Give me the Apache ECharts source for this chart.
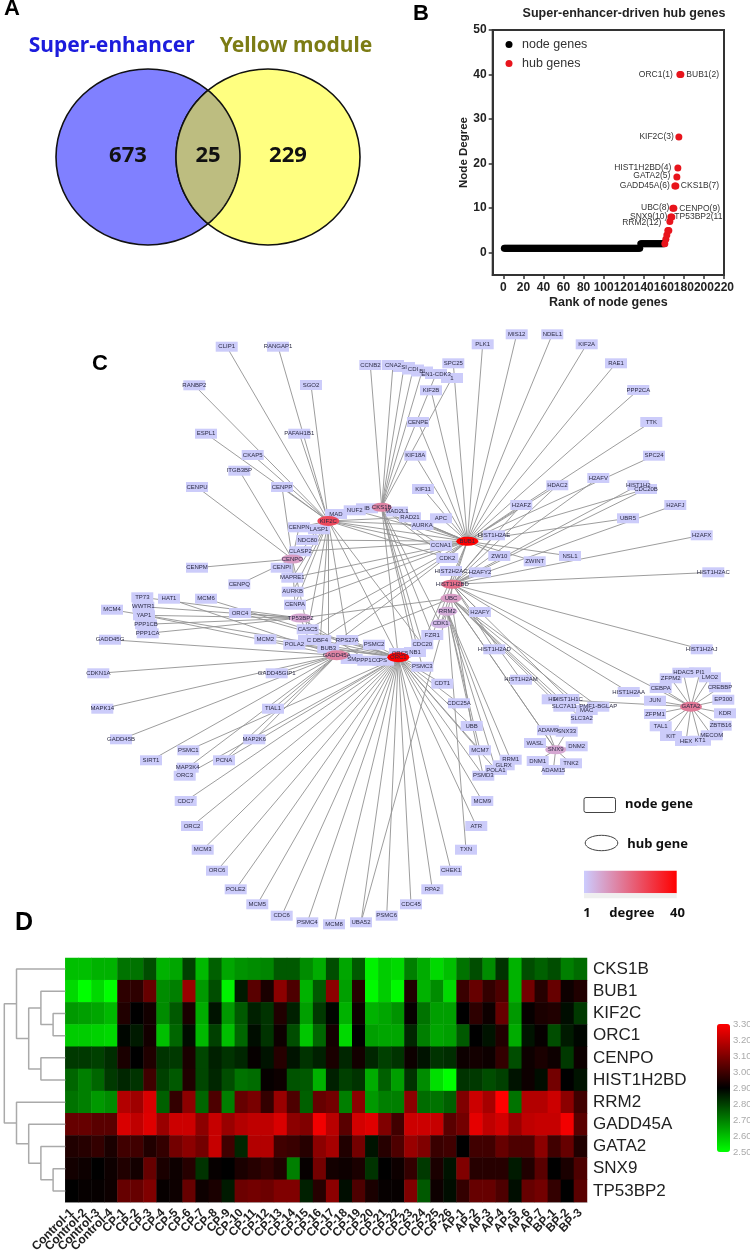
<!DOCTYPE html>
<html><head><meta charset="utf-8">
<style>html,body{margin:0;padding:0;background:#fff}#c{width:750px;height:1251px}</style>
<script src="https://cdn.jsdelivr.net/npm/echarts@6/dist/echarts.min.js"></script>
</head><body><div id="c"></div>
<script>
// ---------- Panel A data
const vennSetNames = ['Super-enhancer', 'Yellow module'];
const vennCounts = [673, 25, 229];

// ---------- Panel B data (degree of each gene, in rank order)
const nodeGeneDegrees = [
 1,1,1,1,1,1,1,1,1,1,1,1,1,1,1,1,1,1,1,1,
 1,1,1,1,1,1,1,1,1,1,1,1,1,1,1,1,1,1,1,1,
 1,1,1,1,1,1,1,1,1,1,1,1,1,1,1,1,1,1,1,1,
 1,1,1,1,1,1,1,1,1,1,1,1,1,1,1,1,1,1,1,1,
 1,1,1,1,1,1,1,1,1,1,1,1,1,1,1,1,1,1,1,1,
 1,1,1,1,1,1,1,1,1,1,1,1,1,1,1,1,1,1,1,1,
 1,1,1,1,1,1,1,1,1,1,1,1,1,1,1,1,
 2,2,2,2,2,2,2,2,2,2,2,2,2,2,2,2,2,2,2,2,2,2,2,2];
const hubRanks   = [161,162,163,164,165,166,167,168,169,170,171,172,173,174,175,176,177];
const hubDegrees = [  2,  3,  4,  5,  5,  7,  8,  8, 10, 10, 15, 15, 17, 19, 26, 40, 40];
const hubNames   = ['','','','','','RRM2(12)','SNX9(10)','TP53BP2(11','UBC(8)','CENPO(9)','GADD45A(6)','CKS1B(7)','GATA2(5)','HIST1H2BD(4)','KIF2C(3)','ORC1(1)','BUB1(2)'];
const xTicksB = [0,20,40,60,80,100,120,140,160,180,200,220];
const yTicksB = [0,10,20,30,40,50];

// ---------- Panel C data
const networkDegrees = {ORC1:40,BUB1:40,KIF2C:26,HIST1H2BD:19,GATA2:17,GADD45A:15,CKS1B:15,UBC:10,CENPO:10,SNX9:8,TP53BP2:8,RRM2:7,CDK1:5};
const networkLinks = {
 BUB1:['PLK1','MIS12','NDEL1','KIF2A','RAE1','SPC25','PPP2CA','TTK','SPC24','KIF2B','CENPE','KIF18A','KIF11','HDAC2','CDC20B','UBR5','NSL1','ZWINT','ZW10','APC','RAD21','AURKA','CCNA1','CDK2','MAD2L1','NUF2','KIF2C','CKS1B','CDK1','CDC20','FZR1','BUB3','DBF4','CASC5','CENPA','AURKB','MAPRE1','CLASP2','NDC80','H2AFZ'],
 ORC1:['CDC7','ORC2','MCM3','ORC6','POLE2','MCM5','CDC6','PSMC4','MCM8','UBA52','PSMC6','CDC45','RPA2','CHEK1','ATR','MCM9','PSMD3','MCM7','UBB','CDC25A','CDT1','PSMC3','NB1','ORC5','MCM2','MCM6','ORC4','MCM4','POLA2','PSMC2','RPS27A','PSMC1','ORC3','PCNA','POLA1','DBF4','KIF2C','CKS1B','CDC20','PS'],
 KIF2C:['CLIP1','RANGAP1','SGO2','RANBP2','ESPL1','PAFAH1B1','CKAP5','CENPP','MAD','NUF2','LASP1','CENPN','NDC80','CLASP2','MAPRE1','AURKB','CENPA','CASC5','DBF4','BUB3','AURKA','CCNA1','CDK2','RAD21','CDC20','RPS27A'],
 HIST1H2BD:['H2AFV','H2AFZ','HDAC2','HIST1H2','H2AFJ','H2AFX','HIST1H2AC','H2AFY2','H2AFY','HIST2H2AC','HIST1H2AE','HIST1H2AJ','HIST1H2AA','HIST1H2AD','HIST1H2AM','HIST1H1C','UBC','GATA2','CDC20B'],
 GATA2:['HDAC5','PI1','ZFPM2','LMO2','CREBBP','CEBPA','JUN','EP300','KDR','ZFPM1','ZBTB16','TAL1','MECOM','KIT','HEX','KT1','HD'],
 GADD45A:['GADD45G','CDKN1A','GADD45GIP1','MAPK14','GADD45B','TIAL1','MAP2K6','MAP3K4','PCNA','SIRT1','YAP1','HAT1','SM','PSMC2','BUB3'],
 CKS1B:['CCNB2','CNA2','SI','CDI','BI','EN1-CDK3','1','CDK1','CDK2','CDC20','CCNA1','FZR1','NB1','MAD2L1','PSMC3'],
 UBC:['SLC7A11','SLC3A2','MAC','PMF1-BGLAP','HD','SNX9','RPS27A','UBB','UBA52','TP53BP2'],
 CENPO:['CENPU','ITGB3BP','CENPP','CENPM','CENPI','CENPQ','CENPN','CENPA','MAPRE1','CASC5'],
 SNX9:['ADAM9','SNX33','WASL','DNM2','DNM1','TNK2','ADAM15','UBC'],
 TP53BP2:['TP73','WWTR1','YAP1','PPP1CB','PPP1CA','PPP1CC','ORC4','C'],
 RRM2:['RRM1','GLRX','POLA1','TXN','PSMD3','MCM7','CDK1']
};
// where each gene sits in the figure
const nodeLayout = {
 CLIP1:[226.7,346.7],RANGAP1:[278,346.7],SGO2:[311,385],RANBP2:[194.3,385.3],ESPL1:[206,433.7],PAFAH1B1:[299.3,433.7],CKAP5:[252.7,455],ITGB3BP:[239.3,470.7],CENPU:[197,487],CENPP:[282,487],
 CCNB2:[370.3,365],CNA2:[393,365],SI:[404,367],CDI:[413,369.5],BI:[422,371.5],'1':[452,378],'EN1-CDK3':[436,374],MAD:[336,514],NUF2:[354.7,510.3],IB:[367,508.3],
 CENPN:[299,527.3],LASP1:[319,529.3],NDC80:[307.3,540],CLASP2:[300.3,551.3],CENPM:[197,567.7],CENPI:[281.7,567.7],MAPRE1:[292.3,577.7],CENPQ:[239.3,584.3],AURKB:[292.7,591.7],
 CENPA:[295,604.7],CASC5:[307.7,629.3],TP73:[142.3,597.3],HAT1:[169,598.7],MCM6:[206,598.7],MCM4:[112,609.7],WWTR1:[143.3,606.7],YAP1:[144,615.3],ORC4:[240,613],PPP1CB:[146,624.3],PPP1CA:[147.7,633.3],
 MCM2:[265.3,639.3],POLA2:[294.3,644.7],C:[309,640],DBF4:[320.3,640],RPS27A:[347.3,640],PSMC2:[374,644.7],BUB3:[328.3,648.3],SM:[351.7,659],PPP1CC:[368.3,660.7],PS:[383,660.7],
 GADD45G:[110,639.7],CDKN1A:[98.3,673.3],GADD45GIP1:[276.7,673.3],MAPK14:[102.3,708.7],TIAL1:[273,708.7],GADD45B:[121,739.3],MAP2K6:[254.3,739.3],PSMC1:[188.3,750.3],SIRT1:[151,760.3],PCNA:[224,760.3],MAP3K4:[187.7,767.7],ORC3:[184.7,775.7],
 CDC7:[185.7,801],ORC2:[192,826],MCM3:[202.7,849.7],ORC6:[217,870.7],POLE2:[235.7,889.3],MCM5:[257.3,904.3],CDC6:[281.7,915.7],PSMC4:[307.3,922.3],MCM8:[334,924.3],UBA52:[361,922.3],PSMC6:[386.7,915.7],
 PLK1:[482.7,344.3],MIS12:[516.7,334.3],NDEL1:[552.3,334.3],KIF2A:[586.7,344.3],RAE1:[616,363.3],SPC25:[453.3,363.3],PPP2CA:[638.3,390],TTK:[651.3,422],SPC24:[654,455.7],KIF2B:[431,390.3],CENPE:[418,422],KIF18A:[415.3,455.7],KIF11:[423,489],
 HDAC2:[557.3,485.3],H2AFV:[598.3,478],HIST1H2:[638.3,485.3],CDC20B:[646,489],H2AFZ:[521.3,505],H2AFJ:[675.3,505],UBR5:[628,518.3],H2AFX:[701.7,535.3],APC:[441,518.3],RAD21:[410,517.3],MAD2L1:[397,511.5],AURKA:[422.3,525],
 HIST1H2AE:[494,535.3],CCNA1:[441,545.7],CDK2:[447.3,558],ZW10:[499.3,556],ZWINT:[534.7,561.3],NSL1:[570,556],HIST2H2AC:[451,571],H2AFY2:[480,572.3],HIST1H2AC:[713.3,572.3],
 H2AFY:[480,612],FZR1:[432.3,635],CDC20:[422.3,644.3],ORC5:[400,653],NB1:[415,652],HIST1H2AD:[494.3,649.3],PSMC3:[422.3,666.7],CDT1:[442.3,683.7],HIST1H2AM:[521,679.7],HIST1H2AA:[628.7,692],HIST1H2AJ:[701.7,649.3],CDC25A:[459,703.3],
 HD:[552.7,699.3],HIST1H1C:[568.3,699],SLC7A11:[564.3,706.7],MAC:[586.7,710],'PMF1-BGLAP':[598.3,706.7],SLC3A2:[581.7,718.7],
 HDAC5:[683.3,672.7],PI1:[700,672.3],ZFPM2:[670.7,678.3],LMO2:[710,677.3],CREBBP:[720,687.3],CEBPA:[660.7,688],JUN:[655,700.7],EP300:[723.3,699.7],KDR:[725,713.3],ZFPM1:[655,714],ZBTB16:[720.7,725.7],TAL1:[660.7,726.3],MECOM:[711.7,735.3],KIT:[671,736],HEX:[686,741],KT1:[700,740.7],
 UBB:[471.7,726],MCM7:[480,750.3],RRM1:[510.7,759.7],GLRX:[503.7,765.3],POLA1:[496,770],PSMD3:[483.3,775.7],ADAM9:[548,730.3],SNX33:[566.7,731.7],WASL:[535,743],DNM2:[576.7,746.3],DNM1:[537.7,761],TNK2:[571,763.3],ADAM15:[553.3,770],
 MCM9:[482.3,801],ATR:[476.3,826],TXN:[466,849.7],CHEK1:[451,870.7],RPA2:[432.3,889.3],CDC45:[411,904.3],
 // hubs last so that they lie on top
 CDK1:[440.7,623.7],RRM2:[447.3,611.3],UBC:[451,598.3],HIST1H2BD:[452.3,584.3],BUB1:[467.3,541.3],CKS1B:[381.7,507.3],KIF2C:[328.3,521],CENPO:[292.3,559],TP53BP2:[300.7,618],GADD45A:[336.7,655.3],ORC1:[398.3,657.3],GATA2:[691,706.7],SNX9:[555.7,749.7]
};
const degreeLegendText = ['1','degree','40'];

// ---------- Panel D data
const heatCols = ['Control-1','Control-2','Control-3','Control-4','CP-1','CP-2','CP-3','CP-4','CP-5','CP-6','CP-7','CP-8','CP-9','CP-10','CP-11','CP-12','CP-13','CP-14','CP-15','CP-16','CP-17','CP-18','CP-19','CP-20','CP-21','CP-22','CP-23','CP-24','CP-25','CP-26','AP-1','AP-2','AP-3','AP-4','AP-5','AP-6','AP-7','BP-1','BP-2','BP-3'];
const heatRows = ['CKS1B','BUB1','KIF2C','ORC1','CENPO','HIST1H2BD','RRM2','GADD45A','GATA2','SNX9','TP53BP2'];
const CKS1B_vals = [2.6,2.6,2.62,2.62,2.72,2.72,2.78,2.62,2.64,2.8,2.61,2.75,2.64,2.67,2.68,2.69,2.76,2.76,2.68,2.63,2.78,2.64,2.76,2.52,2.58,2.56,2.7,2.63,2.56,2.6,2.72,2.78,2.68,2.82,2.62,2.78,2.75,2.78,2.7,2.73];
const BUB1_vals = [2.56,2.5,2.56,2.5,2.97,2.97,3.06,2.68,2.7,3.14,2.66,2.78,2.52,2.86,3.04,2.94,3.12,3.02,2.62,2.76,3.12,2.65,2.96,2.51,2.58,2.51,2.95,2.62,2.68,2.56,2.99,3.06,2.98,3.02,2.62,3.08,2.96,3.06,2.92,2.95];
const KIF2C_vals = [2.66,2.65,2.64,2.61,2.95,2.9,2.93,2.68,2.76,2.94,2.63,2.87,2.66,2.76,2.85,2.82,2.95,2.85,2.65,2.81,2.89,2.62,2.92,2.62,2.64,2.67,2.91,2.72,2.65,2.65,2.9,2.97,2.92,3.06,2.66,2.91,2.94,2.95,2.88,2.81];
const ORC1_vals = [2.58,2.58,2.57,2.56,2.89,2.86,2.93,2.6,2.74,2.88,2.61,2.8,2.6,2.74,2.88,2.82,2.92,2.78,2.59,2.74,2.93,2.56,2.9,2.65,2.64,2.64,2.84,2.7,2.64,2.65,2.76,2.9,2.87,2.95,2.63,2.87,2.91,2.78,2.86,2.89];
const CENPO_vals = [2.81,2.81,2.8,2.83,2.94,2.9,2.95,2.82,2.81,2.94,2.79,2.85,2.82,2.84,2.91,2.87,2.96,2.87,2.82,2.85,2.94,2.84,2.93,2.84,2.8,2.82,2.92,2.87,2.82,2.83,2.92,2.93,2.92,2.98,2.78,2.92,2.94,2.92,2.81,2.92];
const HIST1H2BD_vals = [2.74,2.7,2.74,2.81,2.84,2.82,3.0,2.8,2.76,2.95,2.79,2.84,2.78,2.72,2.73,2.91,2.92,2.77,2.76,2.62,2.85,2.8,2.82,2.63,2.75,2.65,2.82,2.68,2.55,2.5,2.82,2.81,2.78,2.8,2.87,2.92,2.88,3.08,2.9,2.87];
const RRM2_vals = [2.72,2.7,2.66,2.68,3.18,3.15,3.24,2.75,2.98,3.12,2.74,3.02,2.7,3.06,3.09,2.98,3.14,3.02,2.75,3.06,3.08,2.7,3.12,2.66,2.7,2.7,3.12,2.73,2.72,2.75,3.1,3.22,3.16,3.3,2.72,3.18,3.18,3.22,3.12,3.0];
const GADD45A_vals = [3.06,3.06,3.04,3.04,3.24,3.2,3.25,3.14,3.22,3.22,3.12,3.21,3.14,3.18,3.2,3.2,3.24,3.12,3.1,3.28,3.19,3.04,3.23,3.25,3.1,3.0,3.22,3.22,3.21,3.04,3.08,3.26,3.2,3.23,3.14,3.2,3.21,3.21,3.28,3.04];
const GATA2_vals = [2.95,2.96,2.98,2.94,3.0,3.0,2.95,2.98,3.08,3.12,3.08,3.21,3.0,2.84,3.18,3.18,3.0,2.99,2.96,3.12,3.16,2.95,3.08,2.87,2.96,3.02,3.14,3.1,2.99,3.0,2.9,3.0,3.0,3.06,3.02,3.02,3.12,3.0,3.06,2.95];
const SNX9_vals = [2.93,2.92,2.9,2.92,2.95,2.93,3.06,2.94,2.92,2.96,2.82,2.91,2.9,2.94,2.96,2.98,2.95,2.7,2.91,3.08,2.93,2.92,2.94,2.82,2.9,2.92,2.98,2.81,2.94,2.87,3.1,2.96,2.96,2.96,2.86,2.95,3.04,2.9,2.94,3.02];
const TP53BP2_vals = [2.9,2.91,2.91,2.92,3.06,3.06,3.1,2.91,2.92,3.06,2.92,2.94,2.86,3.07,3.08,3.07,3.1,3.1,2.85,2.96,3.12,2.88,3.02,2.94,2.91,2.91,3.1,2.76,2.92,2.88,2.98,3.06,3.06,3.02,2.88,3.06,3.08,2.98,2.9,3.04];
const heatValues = [CKS1B_vals,BUB1_vals,KIF2C_vals,ORC1_vals,CENPO_vals,HIST1H2BD_vals,RRM2_vals,GADD45A_vals,GATA2_vals,SNX9_vals,TP53BP2_vals];
// dendrogram merges: [row A, height A, row B, height B, merge height]
const dendroMerges = [
 [2,0,3,0,.2],[1,0,2.5,.2,.4],[4,0,5,0,.4],[1.75,.4,4.5,.4,.6],[0,0,3.125,.6,.8],
 [9,0,10,0,.2],[8,0,9.5,.2,.4],[7,0,8.75,.4,.6],[6,0,7.875,.6,.8],[1.5625,.8,6.94,.8,1]
];

// ---------- Styles / helpers
const SANS = '"Liberation Sans",Arial,sans-serif';
const NOTO = '"Noto Sans",sans-serif';
function degreeColor(d){
  const t=(d-1)/39, a=[204,204,255], b=[255,0,0];
  return 'rgb('+a.map((v,i)=>Math.round(v+(b[i]-v)*t)).join(',')+')';
}
const hubSize = {ORC1:[22,10],BUB1:[22,9],KIF2C:[22,10],HIST1H2BD:[22,9],GATA2:[22,10],GADD45A:[24,10],CKS1B:[20,9],UBC:[21,9],CENPO:[22,9],SNX9:[21,9],TP53BP2:[23,9],RRM2:[20,9],CDK1:[20,9]};
const graphNodes = Object.keys(nodeLayout).map(name=>{
  const isHub = name in networkDegrees;
  return {
    name, value:nodeLayout[name],
    symbol:isHub?'circle':'rect',
    symbolSize:isHub?hubSize[name]:[22,10],
    itemStyle:{color:isHub?degreeColor(networkDegrees[name]):'#ccccfa'}
  };
});
const graphLinks = [];
Object.keys(networkLinks).forEach(h=>networkLinks[h].forEach(t=>{ if(nodeLayout[t]) graphLinks.push({source:h,target:t}); }));

const heatData=[];
heatValues.forEach((row,r)=>row.forEach((v,c)=>heatData.push([c,r,v])));

const dendroPath=[];
dendroMerges.forEach(m=>{ dendroPath.push([m[1],m[0]],[m[4],m[0]],[m[4],m[2]],[m[3],m[2]],'-'); });

// rank-plot data
const nodePoints = nodeGeneDegrees.map((d,i)=>[i+1,d]);
const hubLabelPlace = {
 'RRM2(12)':['left',5,1],'SNX9(10)':['left',0,0],'TP53BP2(11':['right',-1,0],'UBC(8)':['left',0,-1],'CENPO(9)':['right',2,0],
 'GADD45A(6)':['left',1.5,0],'CKS1B(7)':['right',1.5,0],'GATA2(5)':['left',3,-1],'HIST1H2BD(4)':['left',3,0],'KIF2C(3)':['left',1.5,0],
 'ORC1(1)':['left',3.5,0],'BUB1(2)':['right',2,0]
};
const hubPoints = hubRanks.map((r,i)=>{
  const n=hubNames[i], p={value:[r,hubDegrees[i]]};
  if(n){ const q=hubLabelPlace[n];
    p.label={show:true,formatter:n,position:q[0],distance:q[1],offset:[0,q[2]],fontSize:8.5,color:'#333',fontFamily:SANS}; }
  return p;
});

// venn drawing (in the page-wide grid)
const vennShape = {l:[148,157],r:[268,157],rx:92,ry:88};
function lensPoints(api){
  const s=vennShape, dx=(s.r[0]-s.l[0])/2, a=Math.acos(dx/s.rx), pts=[];
  for(let i=0;i<=60;i++){ const t=-a+2*a*i/60; pts.push(api.coord([s.l[0]+s.rx*Math.cos(t), s.l[1]+s.ry*Math.sin(t)])); }
  for(let i=0;i<=60;i++){ const t=Math.PI-a+2*a*i/60; pts.push(api.coord([s.r[0]+s.rx*Math.cos(t), s.r[1]+s.ry*Math.sin(t)])); }
  return pts;
}
function vennItem(params,api){
  const s=vennShape, i=params.dataIndex;
  const txt=(t,x,y,size,col)=>{const c=api.coord([x,y]);return {type:'text',z2:10,style:{text:t,x:c[0],y:c[1],align:'center',verticalAlign:'middle',fontFamily:NOTO,fontWeight:'bold',fontSize:size,fill:col}};};
  if(i===0){const c=api.coord(s.l);return {type:'group',children:[
    {type:'ellipse',shape:{cx:c[0],cy:c[1],rx:s.rx,ry:s.ry},style:{fill:'#8080ff',stroke:'#111',lineWidth:1.6}},
    txt(String(api.value(0)),128,155.7,22,'#111'), txt(vennSetNames[0],111.7,46,21,'#1c1cdc')]};}
  if(i===2){const c=api.coord(s.r);return {type:'group',children:[
    {type:'ellipse',shape:{cx:c[0],cy:c[1],rx:s.rx,ry:s.ry},style:{fill:'#ffff80',stroke:'#111',lineWidth:1.6}},
    txt(String(api.value(0)),288,155.7,22,'#111'), txt(vennSetNames[1],296,46,21,'#7c7c14')]};}
  return {type:'group',children:[]};
}
function vennLens(params,api){
  return {type:'group',children:[
    {type:'polygon',shape:{points:lensPoints(api)},style:{fill:'#bdbd80',stroke:'#111',lineWidth:1.6}},
    (function(){const c=api.coord([208,155.7]);return {type:'text',style:{text:String(api.value(0)),x:c[0],y:c[1],align:'center',verticalAlign:'middle',fontFamily:NOTO,fontWeight:'bold',fontSize:22,fill:'#111'}};})()
  ]};
}

const letter=(t,x,y,s)=>({type:'text',x,y,style:{text:t,align:'center',verticalAlign:'middle',fontFamily:SANS,fontWeight:'bold',fontSize:s||22,fill:'#000'}});
const legendText=(t,x,y,al)=>({type:'text',x,y,style:{text:t,align:al||'left',verticalAlign:'middle',fontFamily:NOTO,fontWeight:'bold',fontSize:13,fill:'#111'}});

const option={
  animation:false,
  backgroundColor:'#fff',
  title:{text:'Super-enhancer-driven hub genes',left:619,top:2,textAlign:'center',textStyle:{fontFamily:SANS,fontWeight:'bold',fontSize:12.5,color:'#222'}},
  legend:{data:['node genes','hub genes'],orient:'vertical',left:505.5,top:38,padding:0,itemWidth:16,itemHeight:7,itemGap:6,textStyle:{fontFamily:SANS,fontSize:12.5,color:'#333'},selectedMode:false},
  grid:[
    {left:0,top:0,width:750,height:1251,outerBoundsMode:'none'},
    {left:492.7,top:30,width:231.3,height:245,show:true,borderColor:'#333',borderWidth:2,backgroundColor:'transparent',outerBoundsMode:'none'},
    {left:65.3,top:958,width:521.7,height:244,outerBoundsMode:'none'},
    {left:4.3,top:958,width:61,height:244,outerBoundsMode:'none'},
    {left:717,top:1024,width:13,height:128,outerBoundsMode:'none'}
  ],
  xAxis:[
    {gridIndex:0,type:'value',min:0,max:750,show:false},
    {gridIndex:1,type:'value',min:-10.6,max:220,name:'Rank of node genes',nameLocation:'middle',nameGap:21,
      nameTextStyle:{fontFamily:SANS,fontWeight:'bold',fontSize:12.5,color:'#222'},
      axisLine:{show:true,onZero:false,lineStyle:{color:'#333',width:2}},
      axisTick:{show:true,length:4,customValues:xTicksB,lineStyle:{color:'#333',width:1.5}},
      axisLabel:{customValues:xTicksB,margin:7,fontFamily:SANS,fontWeight:'bold',fontSize:12,color:'#222',hideOverlap:false},
      splitLine:{show:false}},
    {gridIndex:2,type:'category',data:heatCols,position:'bottom',
      axisLine:{show:true,lineStyle:{color:'#bbb'}},axisTick:{show:false},
      axisLabel:{interval:0,rotate:45,margin:9,fontFamily:SANS,fontWeight:'bold',fontSize:12,color:'#222',hideOverlap:false},splitLine:{show:false}},
    {gridIndex:3,type:'value',min:0,max:1,inverse:true,show:false},
    {gridIndex:4,type:'value',min:0,max:1,show:false}
  ],
  yAxis:[
    {gridIndex:0,type:'value',min:0,max:1251,inverse:true,show:false},
    {gridIndex:1,type:'value',min:-5,max:50,name:'Node Degree',nameLocation:'middle',nameGap:23,
      nameTextStyle:{fontFamily:SANS,fontWeight:'bold',fontSize:11.5,color:'#222'},
      axisLine:{show:true,onZero:false,lineStyle:{color:'#333',width:2}},
      axisTick:{show:true,length:4,customValues:yTicksB,lineStyle:{color:'#333',width:1.5}},
      axisLabel:{customValues:yTicksB,margin:6,fontFamily:SANS,fontWeight:'bold',fontSize:12,color:'#222'},
      splitLine:{show:false}},
    {gridIndex:2,type:'category',data:heatRows,inverse:true,position:'right',
      axisLine:{show:false},axisTick:{show:false},
      axisLabel:{interval:0,margin:6,fontFamily:SANS,fontSize:17,color:'#222'},splitLine:{show:false}},
    {gridIndex:3,type:'value',min:-.5,max:10.5,inverse:true,show:false},
    {gridIndex:4,type:'value',min:2.5,max:3.3,interval:.1,position:'right',
      axisLine:{show:false},axisTick:{show:false},splitLine:{show:false},
      axisLabel:{margin:3,fontFamily:SANS,fontSize:9.5,color:'#aaa',formatter:v=>v.toFixed(2)}}
  ],
  visualMap:[{type:'continuous',seriesIndex:5,min:2.5,max:3.3,left:717,top:1024,padding:0,itemWidth:13,itemHeight:128,
    calculable:false,realtime:false,hoverLink:false,silent:true,text:null,
    inRange:{color:['#00ff00','#000000','#ff0000']},textStyle:{color:'#aaa',fontSize:1},showLabel:false,
    formatter:function(){return '';}}],
  series:[
    {type:'graph',coordinateSystem:'cartesian2d',xAxisIndex:0,yAxisIndex:0,layout:'none',silent:true,
      data:graphNodes,links:graphLinks,z:1,
      lineStyle:{color:'#929292',width:.9,opacity:1,curveness:0},
      label:{show:true,position:'inside',fontFamily:SANS,fontSize:6,color:'#2b2b44',formatter:'{b}'}},
    {type:'custom',coordinateSystem:'cartesian2d',xAxisIndex:0,yAxisIndex:0,silent:true,z:2,clip:false,
      data:[[vennCounts[0]],[vennCounts[1]],[vennCounts[2]]],encode:{x:-1,y:-1},renderItem:vennItem},
    {type:'custom',coordinateSystem:'cartesian2d',xAxisIndex:0,yAxisIndex:0,silent:true,z:3,clip:false,
      data:[[vennCounts[1]]],encode:{x:-1,y:-1},renderItem:vennLens},
    {name:'node genes',type:'scatter',xAxisIndex:1,yAxisIndex:1,data:nodePoints,symbolSize:7,itemStyle:{color:'#000',opacity:1},silent:true,z:4},
    {name:'hub genes',type:'scatter',xAxisIndex:1,yAxisIndex:1,data:hubPoints,symbolSize:7,itemStyle:{color:'#e8141c',opacity:1},silent:true,z:5},
    {type:'heatmap',xAxisIndex:2,yAxisIndex:2,data:heatData,silent:true,z:2,itemStyle:{borderWidth:0}},
    {type:'line',xAxisIndex:3,yAxisIndex:3,data:dendroPath,showSymbol:false,symbol:'none',connectNulls:false,silent:true,
      lineStyle:{color:'#aaaaaa',width:1.5},clip:false}
  ],
  graphic:{elements:[
    letter('A',12,9),letter('B',421,14),letter('C',100,363.5),letter('D',24,923,25),
    {type:'rect',shape:{x:584,y:797.5,width:31.5,height:15,r:2},style:{fill:'#fff',stroke:'#444',lineWidth:1}},
    legendText('node gene',625,804.5),
    {type:'ellipse',shape:{cx:601.5,cy:843,rx:16.3,ry:7.7},style:{fill:'#fff',stroke:'#444',lineWidth:1}},
    legendText('hub gene',627.3,844),
    {type:'rect',shape:{x:584,y:870.7,width:92.7,height:22.6},style:{fill:{type:'linear',x:0,y:0,x2:1,y2:0,colorStops:[{offset:0,color:'#ccccff'},{offset:1,color:'#ff0000'}]}}},
    {type:'rect',shape:{x:584,y:893.3,width:92.7,height:5},style:{fill:'#efefef'}},
    legendText(degreeLegendText[0],583.3,913,'left'),
    legendText(degreeLegendText[1],632,913,'center'),
    legendText(degreeLegendText[2],677.5,913,'center')
  ]}
};
const chart=echarts.init(document.getElementById('c'),null,{renderer:'canvas',width:750,height:1251});
chart.setOption(option);
</script></body></html>
